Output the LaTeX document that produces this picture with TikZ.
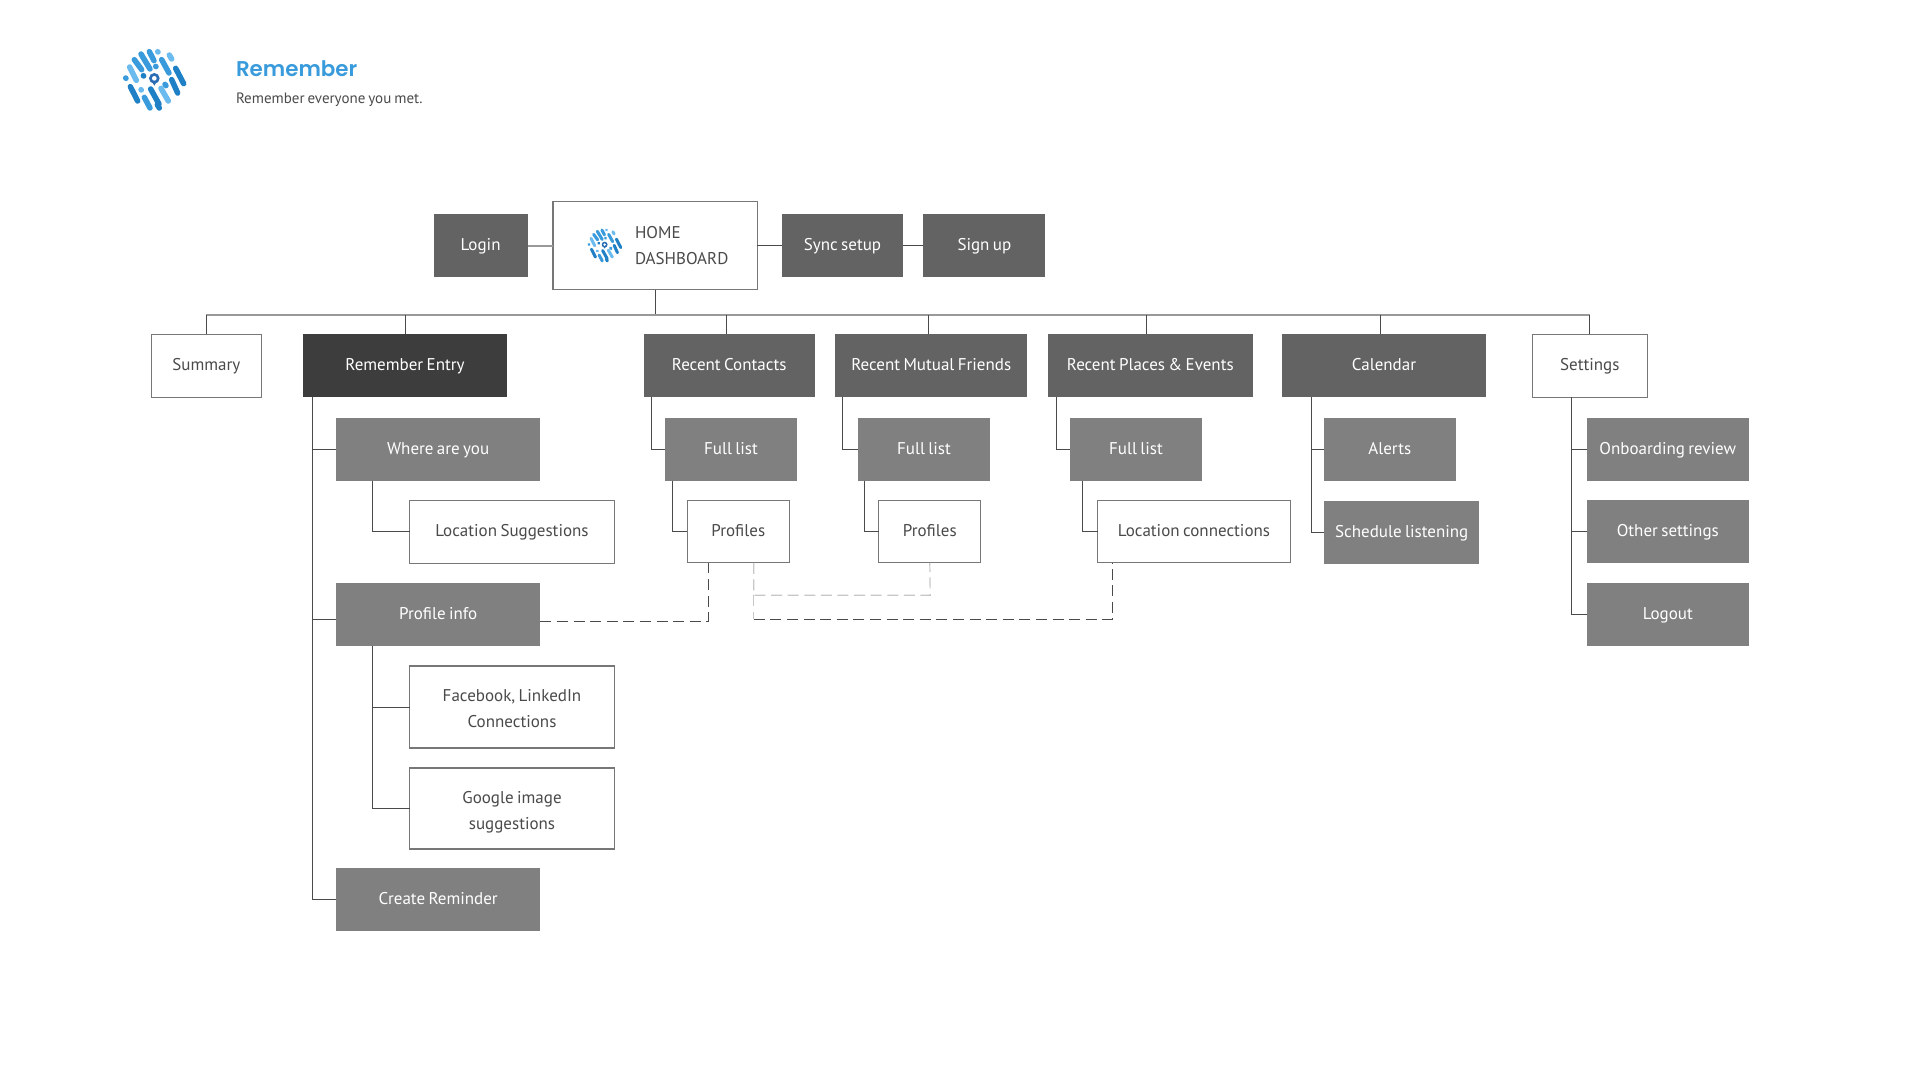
\documentclass[tikz,border=0pt]{standalone}
\usepackage{fontspec}
\setmainfont{PT Sans}[WordSpace=0.75]
\newfontfamily\titlefont{Poppins}[BoldFont=Poppins SemiBold]
\usetikzlibrary{positioning}
\definecolor{boxdark}{HTML}{636363}
\definecolor{boxblack}{HTML}{3D3D3D}
\definecolor{boxmid}{HTML}{808080}
\definecolor{inkgrey}{HTML}{4A4A4A}
\definecolor{logolight}{HTML}{6CBBEF}
\definecolor{logomid}{HTML}{3A9BDC}
\definecolor{logodeep}{HTML}{1F80C5}
\definecolor{logopin}{HTML}{2A6DB5}
\newcommand{\remlogo}[3]{
    \pgfmathsetmacro\logou{#3/6}
    \pgfmathsetmacro\logow{16.5*#3/6}
    \begin{scope}[shift={(#1,#2)},x=\logou pt,y=-\logou pt]
        \foreach \clr/\xa/\ya/\xb/\yb in {
            logolight/-76/-36/-56/4, logomid/-88/-3/-87/-2, logodeep/-74/23/-52/66,
            logomid/-62/-58/-40/-28, logomid/-42/-75/-15/-30, logomid/-17/-82/-3/-55,
            logolight/8/-82/9/-81, logodeep/-35/-10/-34/-9, logomid/2/-38/3/-37,
            logomid/20/-58/42/-18, logolight/43/-72/50/-60, logodeep/62/-32/86/14,
            logodeep/50/2/68/42, logomid/30/16/33/20, logolight/18/28/40/66,
            logodeep/-13/30/12/75, logolight/-42/32/-41/33, logomid/-32/55/-15/87,
            logodeep/7/77/13/87}
            \draw[color=\clr,line width=\logow pt,line cap=round] (\xa,\ya) -- (\xb,\yb);
        \fill[logopin] (-15,-2) -- (-2,20) -- (11,-2) -- cycle;
        \fill[logopin] (-2,-2) circle [radius=16];
        \fill[white] (-2,-2) circle [radius=7];
    \end{scope}
}

\begin{document}
\begin{tikzpicture}
        [x=.5pt, y=-.5pt, inner sep=0pt, outer sep=0pt,
        font=\fontsize{8.5}{13}\selectfont,
        sz/.style 2 args = {minimum width=#1*.5pt, minimum height=#2*.5pt},
        oneline/.style = {text height=7pt, text depth=1.9pt},
        blank/.style = {draw=inkgrey!75, line width=.55pt, fill=white, text=inkgrey, align=center},
        solid1/.style = {oneline, fill=boxdark, text=white},
        solid2/.style = {oneline, fill=boxmid, text=white},
        solid3/.style = {oneline, fill=boxblack, text=white},
        link/.style = {draw=inkgrey, line width=.5pt},
        busline/.style = {draw=black!40, line width=.8pt},
        dkdash/.style = {draw=inkgrey, line width=.45pt, dash pattern=on 5.5pt off 2.8pt},
        ltdash/.style = {draw=black!22, line width=.6pt, dash pattern=on 5.5pt off 2.8pt}]
        \useasboundingbox (0,0) rectangle (1920,1080);

        % header
        \remlogo{155}{79}{1}
        \node[anchor=west, text=logomid, font=\titlefont\bfseries\fontsize{10.7}{13}\selectfont] (title) at (236,69) {Remember};
        \node[anchor=west, text=inkgrey, font=\fontsize{7.5}{10}\selectfont] (tagline) at (236,100) {Remember everyone you met.};

        % top row
        \node[solid1, sz={94}{63}] (login) at (480.6,245.8) {Login};
        \node[blank, sz={204.5}{88.3}] (home) at (655.2,245.8) {};
        \node[anchor=west, align=left, text=inkgrey] (hometext) at (635,245.8) {HOME\\DASHBOARD};
        \remlogo{605}{245}{.55}
        \node[solid1, sz={121}{63}] (sync) at (842.5,245.8) {Sync setup};
        \node[solid1, sz={122}{63}] (signup) at (984.4,245.8) {Sign up};

        % sections
        \node[blank, oneline, sz={110.5}{62.7}] (summary) at (206.3,365.7) {Summary};
        \node[solid3, sz={204}{62.7}] (entry) at (405,365.7) {Remember Entry};
        \node[solid1, sz={171.3}{62.7}] (contacts) at (729.2,365.7) {Recent Contacts};
        \node[solid1, sz={192}{62.7}] (mutual) at (931.3,365.7) {Recent Mutual Friends};
        \node[solid1, sz={204.6}{62.7}] (places) at (1150.3,365.7) {Recent Places \& Events};
        \node[solid1, sz={204}{62.7}] (calendar) at (1384,365.7) {Calendar};
        \node[blank, oneline, sz={115}{62.7}] (settings) at (1589.8,365.7) {Settings};

        % remember entry
        \node[solid2, sz={204.3}{62.4}] (where) at (438.2,449.5) {Where are you};
        \node[blank, oneline, sz={204.6}{62.7}] (suggest) at (512,531.7) {Location Suggestions};
        \node[solid2, sz={204.3}{62.7}] (info) at (438.2,614.4) {Profile info};
        \node[blank, sz={204.6}{82}] (social) at (512,707) {\rule{0pt}{9.5pt}Facebook, LinkedIn\\Connections\rule[-2pt]{0pt}{2pt}};
        \node[blank, sz={204.6}{81}] (google) at (512,808.5) {\rule{0pt}{9.5pt}Google image\\suggestions\rule[-2pt]{0pt}{2pt}};
        \node[solid2, sz={204.3}{62.4}] (reminder) at (438.2,899.5) {Create Reminder};

        % lists
        \node[solid2, sz={132}{62.4}] (full1) at (731,449.5) {Full list};
        \node[solid2, sz={132}{62.4}] (full2) at (924,449.5) {Full list};
        \node[solid2, sz={132}{62.4}] (full3) at (1136,449.5) {Full list};
        \node[blank, oneline, sz={102}{62.7}] (prof1) at (738.3,531.5) {Profiles};
        \node[blank, oneline, sz={102}{62.7}] (prof2) at (929.8,531.5) {Profiles};
        \node[blank, oneline, sz={192.8}{62.7}] (loccon) at (1194,531.5) {Location connections};

        % calendar and settings
        \node[solid2, sz={132.3}{62.4}] (alerts) at (1389.8,449.5) {Alerts};
        \node[solid2, sz={155.3}{62.4}] (schedule) at (1401.7,532.5) {Schedule listening};
        \node[solid2, sz={162.3}{62.4}] (onboard) at (1667.8,449.5) {Onboarding review};
        \node[solid2, sz={162.3}{62.4}] (other) at (1667.8,531.5) {Other settings};
        \node[solid2, sz={162.3}{62.4}] (logout) at (1667.8,614.5) {Logout};

        \coordinate (bus) at (655.2,315);
        \coordinate (lowA) at (930.2,595.3);
        \coordinate (lowB) at (1112.3,619.3);
        \coordinate (tap) at ([xshift=7.7pt]prof1.south);

        \draw[busline] (login) -- (home);
        \draw[link] (home) -- (sync);
        \draw[link] (sync) -- (signup);
        \draw[link] (home.south) -- (home.south |- bus);
        \draw[busline] (summary.north |- bus) -- (settings.north |- bus);
        \foreach \sect/\shft in {summary/0, entry/0, contacts/-1.3, mutual/-1.6, places/-2.1, calendar/-2, settings/0}
            \draw[link] ([xshift=\shft pt]\sect.north) -- ([xshift=\shft pt]\sect.north |- bus);

        \draw[link] ([xshift=4.6pt]entry.south west) |- (where.west);
        \draw[link] ([xshift=4.6pt]entry.south west) |- ([yshift=-2.4pt]info.west);
        \draw[link] ([xshift=4.6pt]entry.south west) |- (reminder.west);
        \draw[link] ([xshift=18.2pt]where.south west) |- (suggest.west);
        \draw[link] ([xshift=18.2pt]info.south west) |- (social.west);
        \draw[link] ([xshift=18.2pt]info.south west) |- (google.west);

        \draw[link] ([xshift=3.8pt]contacts.south west) |- (full1.west);
        \draw[link] ([xshift=3.8pt]mutual.south west) |- (full2.west);
        \draw[link] ([xshift=4pt]places.south west) |- (full3.west);
        \draw[link] ([xshift=3.8pt]full1.south west) |- (prof1.west);
        \draw[link] ([xshift=3.3pt]full2.south west) |- (prof2.west);
        \draw[link] ([xshift=6.4pt]full3.south west) |- (loccon.west);

        \draw[link] ([xshift=14.8pt]calendar.south west) |- (alerts.west);
        \draw[link] ([xshift=14.8pt]calendar.south west) |- (schedule.west);
        \draw[link] ([xshift=19.5pt]settings.south west) |- (onboard.west);
        \draw[link] ([xshift=19.5pt]settings.south west) |- (other.west);
        \draw[link] ([xshift=19.5pt]settings.south west) |- (logout.west);

        \draw[dkdash] ([yshift=-3.4pt]info.east) -| ([xshift=-15pt]prof1.south);
        \draw[ltdash] (tap) |- (lowA) -- (prof2.south);
        \draw[ltdash] (tap |- lowA) -- (tap |- lowB);
        \draw[dkdash] (tap |- lowB) -- (lowB) -- (loccon.south -| lowB);
\end{tikzpicture}
\end{document}
